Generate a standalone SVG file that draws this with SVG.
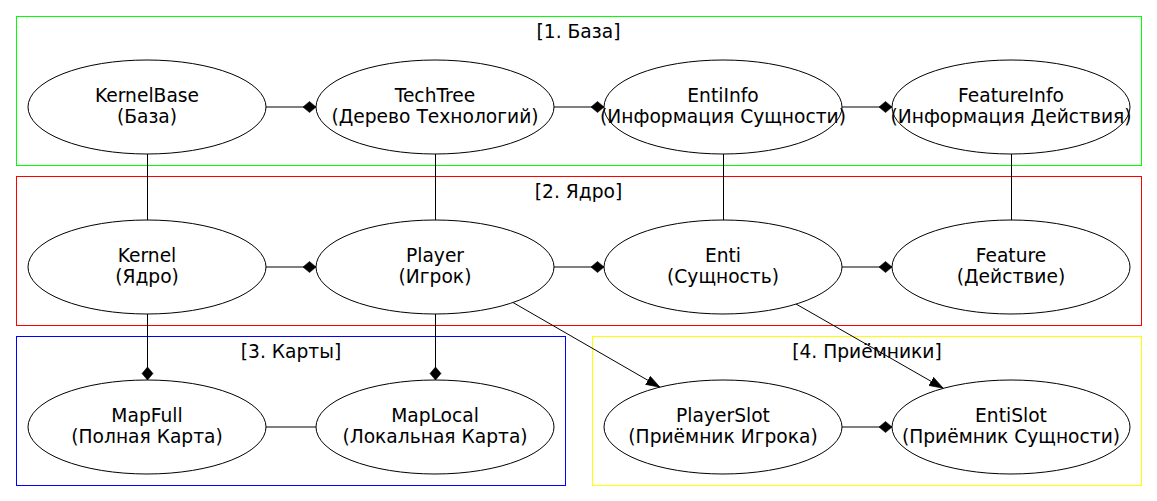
<svg xmlns="http://www.w3.org/2000/svg" width="1157" height="501" viewBox="0 0 1157 501">
<style>
  .cl { fill: none; stroke-width: 1; }
  .nd ellipse { fill: #ffffff; stroke: #000000; stroke-width: 1; }
  text { font-family: "DejaVu Sans", "Noto Sans", sans-serif; font-size: 18.67px; fill: #000000; text-anchor: middle; }
  .e { stroke: #000000; stroke-width: 1; fill: none; }
</style>
<defs>
  <marker id="dia" markerUnits="userSpaceOnUse" markerWidth="14" markerHeight="13" refX="13" refY="6.5" orient="auto" viewBox="0 0 14 13">
    <path d="M0,6.5 L6.5,1 L13,6.5 L6.5,12 Z" fill="#000000" stroke="#000000" stroke-width="0.6"/>
  </marker>
  <marker id="arr" markerUnits="userSpaceOnUse" markerWidth="15" markerHeight="12" refX="14" refY="6" orient="auto" viewBox="0 0 15 12">
    <path d="M0,1.3 L14,6 L0,10.7 Z" fill="#000000" stroke="#000000" stroke-width="0.6"/>
  </marker>
</defs>
<rect width="1157" height="501" fill="#ffffff"/>

<g id="cluster1">
  <rect class="cl" x="16.5" y="16.5" width="1125" height="149" stroke="#00ff00"/>
  <text x="578.5" y="38">[1. База]</text>
</g>
<g id="cluster2">
  <rect class="cl" x="16.5" y="176.5" width="1125" height="149" stroke="#ff0000"/>
  <text x="578.5" y="198">[2. Ядро]</text>
</g>
<g id="cluster3">
  <rect class="cl" x="16.5" y="336.5" width="549" height="149" stroke="#0000ff"/>
  <text x="291" y="358">[3. Карты]</text>
</g>
<g id="cluster4">
  <rect class="cl" x="592.5" y="336.5" width="549" height="149" stroke="#ffff00"/>
  <text x="867" y="358">[4. Приёмники]</text>
</g>

<g id="connectors">
  <line class="e" x1="266" y1="107" x2="316" y2="107" marker-end="url(#dia)"/>
  <line class="e" x1="554" y1="107" x2="604" y2="107" marker-end="url(#dia)"/>
  <line class="e" x1="842" y1="107" x2="892" y2="107" marker-end="url(#dia)"/>
  <line class="e" x1="266" y1="267" x2="316" y2="267" marker-end="url(#dia)"/>
  <line class="e" x1="554" y1="267" x2="604" y2="267" marker-end="url(#dia)"/>
  <line class="e" x1="842" y1="267" x2="892" y2="267" marker-end="url(#dia)"/>
  <line class="e" x1="147.5" y1="154" x2="147.5" y2="220"/>
  <line class="e" x1="435.5" y1="154" x2="435.5" y2="220"/>
  <line class="e" x1="723.5" y1="154" x2="723.5" y2="220"/>
  <line class="e" x1="1011.5" y1="154" x2="1011.5" y2="220"/>
  <line class="e" x1="147.5" y1="314" x2="147.5" y2="380" marker-end="url(#dia)"/>
  <line class="e" x1="435.5" y1="314" x2="435.5" y2="380" marker-end="url(#dia)"/>
  <line class="e" x1="266" y1="427" x2="316" y2="427"/>
  <line class="e" x1="842" y1="427" x2="892" y2="427" marker-end="url(#dia)"/>
  <line class="e" x1="513" y1="302.5" x2="660" y2="387.3" marker-end="url(#arr)"/>
  <line class="e" x1="796" y1="304" x2="943.3" y2="388.3" marker-end="url(#arr)"/>
</g>

<g id="KernelBase" class="nd"><ellipse cx="147" cy="107" rx="119" ry="47"/><text x="147" y="102">KernelBase</text><text x="147" y="123">(База)</text></g>
<g id="TechTree" class="nd"><ellipse cx="435" cy="107" rx="119" ry="47"/><text x="435" y="102">TechTree</text><text x="435" y="123">(Дерево Технологий)</text></g>
<g id="EntiInfo" class="nd"><ellipse cx="723" cy="107" rx="119" ry="47"/><text x="723" y="102">EntiInfo</text><text x="723" y="123">(Информация Сущности)</text></g>
<g id="FeatureInfo" class="nd"><ellipse cx="1011" cy="107" rx="119" ry="47"/><text x="1011" y="102">FeatureInfo</text><text x="1011" y="123">(Информация Действия)</text></g>

<g id="Kernel" class="nd"><ellipse cx="147" cy="267" rx="119" ry="47"/><text x="147" y="262">Kernel</text><text x="147" y="283">(Ядро)</text></g>
<g id="Player" class="nd"><ellipse cx="435" cy="267" rx="119" ry="47"/><text x="435" y="262">Player</text><text x="435" y="283">(Игрок)</text></g>
<g id="Enti" class="nd"><ellipse cx="723" cy="267" rx="119" ry="47"/><text x="723" y="262">Enti</text><text x="723" y="283">(Сущность)</text></g>
<g id="Feature" class="nd"><ellipse cx="1011" cy="267" rx="119" ry="47"/><text x="1011" y="262">Feature</text><text x="1011" y="283">(Действие)</text></g>

<g id="MapFull" class="nd"><ellipse cx="147" cy="427" rx="119" ry="47"/><text x="147" y="422">MapFull</text><text x="147" y="443">(Полная Карта)</text></g>
<g id="MapLocal" class="nd"><ellipse cx="435" cy="427" rx="119" ry="47"/><text x="435" y="422">MapLocal</text><text x="435" y="443">(Локальная Карта)</text></g>
<g id="PlayerSlot" class="nd"><ellipse cx="723" cy="427" rx="119" ry="47"/><text x="723" y="422">PlayerSlot</text><text x="723" y="443">(Приёмник Игрока)</text></g>
<g id="EntiSlot" class="nd"><ellipse cx="1011" cy="427" rx="119" ry="47"/><text x="1011" y="422">EntiSlot</text><text x="1011" y="443">(Приёмник Сущности)</text></g>
</svg>
